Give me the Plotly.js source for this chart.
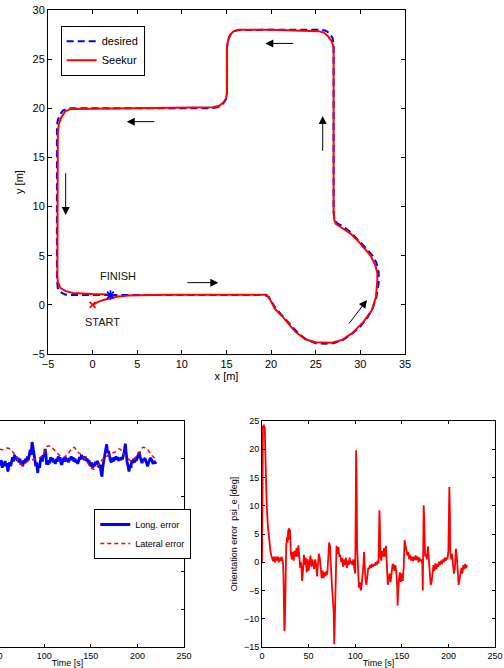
<!DOCTYPE html>
<html>
<head>
<meta charset="utf-8">
<script src="https://cdn.plot.ly/plotly-3.0.1.min.js"></script>
<style>
html,body{margin:0;padding:0;overflow:hidden;background:#fff;width:504px;height:668px;}
#chart{position:absolute;left:-100px;top:0;width:604px;height:668px;}
</style>
</head>
<body>
<div id="chart"></div>
<script>
// ---- Top plot: path (x [m], y [m]) ----
const desiredX = [2,8,14,19.3,19.75,20.1,20.4,21.0,22.0,23.0,24.0,25.0,26.0,27.0,28.0,29.0,30.0,30.8,31.4,31.8,32.05,32.05,31.8,31.3,30.6,29.8,28.9,28.0,27.4,27.1,27.0,27.0,27.0,26.9,26.6,26.1,25.4,20,16.3,15.7,15.3,15.1,15.05,15.05,14.9,14.5,14.0,13.3,8,2,-2.6,-3.3,-3.7,-3.95,-4.0,-4.0,-3.9,-3.6,-3.1,-2.6,0,2];
const desiredY = [1,1,1,1,0.8,0.3,-0.2,-0.85,-1.9,-2.85,-3.55,-3.9,-3.95,-3.9,-3.6,-3.0,-2.2,-1.3,-0.3,0.8,2.2,3.3,4.3,5.1,5.8,6.6,7.4,8.0,8.3,8.7,9.5,17,26.4,27.1,27.6,27.9,28.0,28.0,27.95,27.8,27.3,26.5,26,21.4,20.8,20.35,20.1,20.0,20.0,20.0,20.0,19.8,19.3,18.6,17.5,2.6,1.7,1.3,1.05,1.0,1.0,1.0];
const seekurX = [0,0.5,1.2,2.0,2.7,4.0,5.3,8,14,19.5,19.9,20.47,21.2,22.7,23.83,24.95,26.82,27.94,29.06,30.37,31.3,31.75,31.9,31.9,31.67,31.1,29.8,28.87,27.75,27.27,27.08,27.0,27.0,27.0,26.8,26.4,25.9,25.3,20,16.4,15.8,15.4,15.15,15.05,15.05,14.95,14.7,14.2,13.5,8,2,-2.5,-3.1,-3.55,-3.8,-3.9,-3.95,-3.9,-3.6,-3.0,-2.2,-1.5,0,2];
const seekurY = [0,0.25,0.5,0.7,0.83,0.94,0.99,1.02,1.03,1.03,0.5,-0.45,-1.13,-2.72,-3.5,-3.8,-3.85,-3.57,-2.9,-1.71,-0.52,0.83,2.53,3.21,4.06,5.07,6.43,7.28,7.95,8.23,8.64,9.5,17,26.2,26.8,27.3,27.7,27.85,27.98,28.0,27.85,27.45,26.8,26.2,21.6,21.0,20.65,20.25,20.1,20.02,19.97,19.93,19.65,19.0,18.3,17.5,3.0,2.3,1.7,1.4,1.2,1.15,1.1,1.05];
const startPt = [0,0];
const finishPt = [2,1];
// arrows: head and tail points
const arrowHeadX = [19.35,3.82,25.78,-3.02,14.08,30.74];
const arrowHeadY = [26.6,18.64,19.22,9.15,2.26,0.5];
const arrowTailX = [22.64,7.07,25.78,-3.02,10.46,28.61];
const arrowTailY = [26.6,18.64,15.52,13.55,2.26,-2.04];
const labelText = ['FINISH','START'];
const labelX = [2.88,1.13];
const labelY = [2.94,-1.7];

// ---- Bottom-left: tracking errors ----
const longT = [0,10,20,30,40,48,50,51,52,53,54,55,56,57,58,59,60,61,62,63,64,65,66,67,68,69,70,71,72,73,74,75,76,77,78,79,80,81,82,83,84,85,86,87,88,89,90,91,92,93,94,95,96,97,98,99,100,101,102,102.5,103,104,105,106,107,108,109,110,111,112,113,114,115,116,117,118,119,120,121,122,123,124,125,126,127,128,129,130,131,132,133,134,135,136,137,138,139,140,141,142,143,144,145,146,147,148,149,150,151,152,153,154,155,156,157,158,159,160,161,162,163,164,165,166,167,168,169,170,171,172,173,174,175,176,177,178,179,180,181,182,183,184,185,186,187,188,189,190,191,192,193,194,195,196,197,198,199,200,201,202,203,204,205,206,207,208,209,210,211,212,213,214,215,216,217,218,219,220];
const longErr = [0.1,-0.05,0,-0.05,0.03,-0.05,0.02,-0.1,-0.03,-0.09,-0.02,-0.12,-0.05,-0.1,-0.03,-0.1,-0.06,-0.17,-0.1,-0.05,-0.1,-0.02,0.02,-0.04,0.05,0,0.03,-0.03,0.01,-0.05,0,-0.08,-0.04,-0.1,-0.02,-0.06,0,-0.04,0.03,-0.02,0.06,0.12,0.05,0.22,0.15,0.08,-0.02,-0.1,-0.05,-0.19,-0.08,-0.12,-0.02,0.02,-0.04,0.05,0.02,0.13,0.04,-0.08,-0.03,-0.08,-0.02,-0.06,0.02,-0.03,0.01,-0.05,-0.02,-0.07,0,-0.04,0.03,-0.02,0.02,-0.06,-0.08,-0.02,0.01,-0.04,0.02,-0.03,0,-0.05,0.01,-0.02,0.03,-0.02,0.02,-0.04,0,-0.05,-0.02,-0.07,-0.03,0.02,-0.01,0.05,0,0.03,-0.02,0.03,-0.03,0,-0.05,-0.02,-0.07,-0.1,-0.05,-0.12,-0.07,-0.1,-0.04,-0.08,-0.03,-0.06,-0.12,-0.08,-0.18,-0.24,-0.1,-0.04,0.05,0.12,0.19,0.08,0.1,0.02,-0.02,-0.05,0.01,-0.04,0.02,-0.02,0.03,-0.01,0.02,-0.03,0.01,-0.02,0.02,-0.01,0.04,0.1,0.2,0.05,-0.05,-0.1,-0.17,-0.08,-0.12,-0.02,-0.06,0,-0.05,0.01,-0.03,0.02,0.05,0.09,0.02,-0.04,-0.06,0,-0.03,0.01,-0.04,-0.06,-0.1,-0.05,-0.02,0.01,-0.01,-0.04,-0.07,-0.03,-0.06,-0.04];
const latT = [0,20,40,50,55,60,64,68,72,76,79,83,88,95,100,104,108,112,116,121,125,129,132,136,141,146,150,153,157,161,166,171,176,181,185,189,194,198,202,206,210,214,218,220];
const latErr = [0.05,0.08,0.12,0.13,0.12,0.14,0.12,0.06,-0.02,-0.08,-0.07,-0.03,-0.01,0.01,0.08,0.17,0.15,0.1,0.05,0.02,0.06,0.12,0.15,0.09,0.04,-0.04,-0.12,-0.14,-0.1,-0.03,0.02,0.06,0.09,0.13,0.07,0.01,-0.03,0.02,0.08,0.15,0.13,0.07,0.01,0];

// ---- Bottom-right: orientation error ----
const psiT = [0,0.5,1,2,3,3.5,4,5,6,7,8,9,10,11,12,13,14,15,16,17,18,19,20,21,22,22.5,23,23.5,24,24.5,25,25.5,26,27,27.5,28,29,29.5,30,31,32,33,34,35,36,37,38,39,40,41,42,43,44,45,46,47,48,49,50,51,52,53,54,55,56,57,58,59,60,61,62,63,64,65,66,67,68,69,70,71,72,73,73.5,74,75,76,77,77.5,78,78.5,79,80,81,82,83,84,85,86,87,88,89,90,91,92,93,94,95,96,97,98,99,100,100.5,101,101.5,102,103,103.5,104,105,106,107,108,109,109.5,110,111,112,113,114,115,116,117,118,119,120,121,122,123,124,125,125.5,126,126.5,127,128,129,130,131,132,133,134,135,136,137,138,139,140,141,142,143,144,145,145.5,146,147,148,149,150,151,152,153,154,155,156,157,158,159,160,161,162,163,164,165,166,167,168,169,170,171,172,172.5,173,173.5,174,175,176,177,178,179,180,181,182,183,184,185,186,187,188,189,190,191,192,193,194,195,196,197,198,199,200,200.5,201,201.5,202,203,204,205,206,207,208,209,210,211,212,213,214,215,216,217,218,219,220];
const psiErr = [0,15,24,24.2,23.8,20,16,10.5,7,5,3.5,2,1.2,0.8,0.2,1,0,1,0.3,1,0,0.8,0.2,1,0.5,0,-2,-6,-12.2,-11,-6.5,-1,3,4.5,3.5,5.5,6,4,5.8,1.5,0.5,1.8,0.3,2,1,2.5,1,3,0.5,-1,0,-3.3,-1.5,1.3,-0.5,0.8,-1.8,0.5,-1.5,-0.2,1.2,-0.8,0.5,-0.3,-1.2,0.5,-0.3,-2.5,0.2,1.5,0.8,-1,-2.8,-1.5,-2.8,-1.8,-2.5,-1.6,-2.2,0.5,3.5,2.8,-0.5,-1,-4,-7,-9,-14.5,-11,-5,0.5,2.9,1.5,2.7,1,1.3,0,0.8,-0.8,0.5,-0.5,0.8,-1,0.3,-0.5,0.8,-0.2,0.2,-0.5,0.5,-1,-2,8,19.8,15,3,-2,-3.5,-4.5,-3.5,-5,-4,-2.5,0,1.8,-1,-3,-4,-2.5,-1,-1.2,-0.5,-1,-0.3,-0.8,-0.3,-0.6,0,-0.5,0.3,-0.2,4,9.2,7,1,0.3,2,1,2.5,1,2.9,-1,-4,-3,-2,-3.5,-1.5,-0.5,-0.3,-1.5,-0.5,-1.5,-4,-7.7,-5.5,-3,-1.8,-3.5,-2,-3.3,-1,3.9,2.8,2.5,1.2,1.8,0.5,1.3,0.3,1,0.2,1,0.4,1.2,0.4,1,0,0.8,0.2,0.5,-0.3,-5,3,10.1,8,1,1.5,0.5,2.8,0.5,-2,-4,-3.5,-1.5,-0.5,-1.5,-0.2,-1.2,-0.3,-0.8,0.1,-0.5,0.3,-0.3,0.5,0,0.8,0.2,0.8,0.5,2,8,13.3,10,2,0.5,1.5,-0.5,-2,-1,2.4,1,-2,-4,-3,-2,-1,-2,-0.5,-1.2,-0.3,-1,-0.5];

const FONT = 'Liberation Sans, Arial, Helvetica, sans-serif';
const W = 604, H = 668;

const traces = [
  {x: desiredX, y: desiredY, type:'scatter', mode:'lines', name:'desired',
   line:{color:'#0000ff', width:2, dash:'7px,4px'}, xaxis:'x', yaxis:'y', legend:'legend'},
  {x: seekurX, y: seekurY, type:'scatter', mode:'lines', name:'Seekur',
   line:{color:'#ff0000', width:2}, xaxis:'x', yaxis:'y', legend:'legend'},
  {x:[startPt[0]], y:[startPt[1]], type:'scatter', mode:'markers', showlegend:false,
   marker:{symbol:'x-thin-open', size:6, color:'#ff0000', line:{color:'#ff0000', width:1.6}}, xaxis:'x', yaxis:'y'},
  {x:[finishPt[0]], y:[finishPt[1]], type:'scatter', mode:'markers', showlegend:false,
   marker:{symbol:'asterisk-open', size:8, color:'#0000ff', line:{color:'#0000ff', width:1.6}}, xaxis:'x', yaxis:'y'},
  {x: longT, y: longErr, type:'scatter', mode:'lines', name:'Long. error',
   line:{color:'#0000ff', width:2.8}, xaxis:'x2', yaxis:'y2', legend:'legend2'},
  {x: latT, y: latErr, type:'scatter', mode:'lines', name:'Lateral error', line:{color:'#ff0000', width:1.5, dash:'4px,3px', shape:'spline'},
   xaxis:'x2', yaxis:'y2', legend:'legend2'},
  {x: psiT, y: psiErr, type:'scatter', mode:'lines', showlegend:false,
   line:{color:'#ff0000', width:1.8}, xaxis:'x3', yaxis:'y3'}
];

const annotations = [];
for (let i = 0; i < arrowHeadX.length; i++) {
  annotations.push({x: arrowHeadX[i], y: arrowHeadY[i], ax: arrowTailX[i], ay: arrowTailY[i],
    xref:'x', yref:'y', axref:'x', ayref:'y', text:'', showarrow:true,
    arrowhead:2, arrowsize:1.6, arrowwidth:1, arrowcolor:'#000'});
}
for (let i = 0; i < labelText.length; i++) {
  annotations.push({x: labelX[i], y: labelY[i], xref:'x', yref:'y', text: labelText[i],
    showarrow:false, font:{family:FONT, size:11, color:'#111'}});
}

function ax(extra) {
  return Object.assign({
    showline:true, linecolor:'#000', linewidth:1, mirror:'ticks', ticks:'inside', ticklen:4,
    tickcolor:'#000', showgrid:false, zeroline:false, tickfont:{family:FONT, size:11, color:'#000'}
  }, extra);
}

const layout = {
  width: W, height: H, margin:{l:0, r:0, t:0, b:0}, paper_bgcolor:'#fff', plot_bgcolor:'#fff',
  font:{family:FONT, color:'#000'},
  xaxis: ax({domain:[148/W, 505/W], range:[-5,35], dtick:5, tick0:-5, anchor:'y',
    title:{text:'x [m]', font:{family:FONT, size:11}, standoff:2}}),
  yaxis: ax({domain:[1-354/H, 1-10/H], range:[-5,30], dtick:5, tick0:-5, anchor:'x',
    title:{text:'y [m]', font:{family:FONT, size:11}, standoff:6}}),
  xaxis2: ax({domain:[51/W, 284/W], range:[0,250], dtick:50, anchor:'y2', ticklen:3,
    tickfont:{family:FONT, size:9, color:'#000'}, title:{text:'Time [s]', font:{family:FONT, size:9}, standoff:0}}),
  yaxis2: ax({domain:[1-647/H, 1-421/H], range:[-2.5,0.5], dtick:0.5, anchor:'x2', ticklen:3,
    showticklabels:false}),
  xaxis3: ax({domain:[362/W, 595/W], range:[0,250], dtick:50, anchor:'y3', ticklen:3,
    tickfont:{family:FONT, size:9, color:'#000'}, title:{text:'Time [s]', font:{family:FONT, size:9}, standoff:0}}),
  yaxis3: ax({domain:[1-647/H, 1-421/H], range:[-15,25], dtick:5, anchor:'x3', ticklen:3,
    tickfont:{family:FONT, size:9, color:'#000'}, title:{text:'Orientation error\u00a0 psi_e [deg]', font:{family:FONT, size:9}, standoff:4}}),
  legend: {x:160.7/W, y:1-25.7/H, xanchor:'left', yanchor:'top', bgcolor:'#fff', bordercolor:'#000', borderwidth:1,
    font:{family:FONT, size:11, color:'#000'}, itemwidth:30, tracegroupgap:0},
  legend2: {x:194.3/W, y:1-509/H, xanchor:'left', yanchor:'top', bgcolor:'#fff', bordercolor:'#000', borderwidth:1,
    font:{family:FONT, size:9, color:'#000'}, itemwidth:30, tracegroupgap:0},
  showlegend:true,
  annotations: annotations
};

Plotly.newPlot('chart', traces, layout, {displayModeBar:false, staticPlot:true});
</script>
</body>
</html>
